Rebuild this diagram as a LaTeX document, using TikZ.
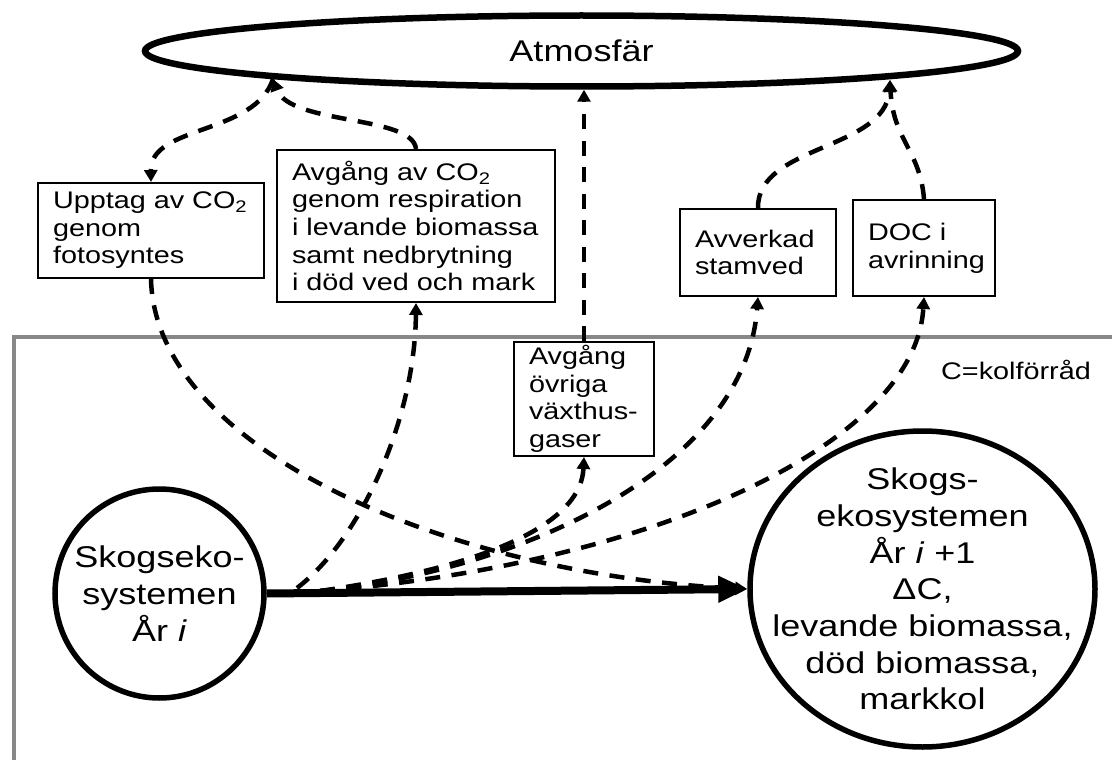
\documentclass[tikz,border=0pt]{standalone}
\usepackage{fontspec}
\setmainfont{Liberation Sans}[FakeStretch=1.2]
\usetikzlibrary{arrows.meta,shapes.geometric}
\definecolor{framegray}{RGB}{136,136,136}
\hyphenpenalty=10000
\exhyphenpenalty=10000
\begin{document}
\begin{tikzpicture}[x=1pt,y=-1pt,
  boxtext/.style={font=\fontsize{24}{27.6}\selectfont},
  fbox/.style={draw, line width=2pt, anchor=north west, align=left, inner xsep=15pt, inner ysep=0pt, boxtext},
  bigtext/.style={font=\fontsize{30}{36.7}\selectfont},
  flow/.style={line width=4.5pt, dash pattern=on 15pt off 11.5pt, -{Triangle[length=12pt,width=13pt]}},
  mainflow/.style={line width=8pt, -{Triangle[length=29pt,width=25pt]}},
  framestyle/.style={draw=framegray, line width=4.5pt},
]
\useasboundingbox (0,0) rectangle (1112,760);
\draw[framestyle] (14,762) -- (14,337) -- (1114,337);

\node[ellipse, draw, line width=6.5pt, minimum width=873pt, minimum height=71pt, inner sep=0pt, bigtext] (atm) at (581.5,51) {Atmosfär};

\node[fbox, text width=196pt, minimum height=95pt] (box1) at (37,182)
  {Upptag~av~CO\textsubscript{2}\\genom\\fotosyntes};
\node[fbox, text width=248pt, minimum height=152pt] (box2) at (276,149)
  {Avgång~av~CO\textsubscript{2}\\genom~respiration\\i~levande~biomassa\\samt~nedbrytning\\i~död~ved~och~mark};
\node[fbox, text width=110pt, minimum height=114pt] (box3) at (513,341)
  {Avgång\\övriga\\växthus-\\gaser};
\node[fbox, text width=126pt, minimum height=87pt] (avv) at (679,208)
  {Avverkad\\stamved};
\node[fbox, text width=112pt, minimum height=96pt] (doc) at (852,199)
  {DOC~i\\avrinning};

\node[boxtext] (legend) at (1016,370) {C=kolförråd};

\node[circle, draw, line width=5.5pt, minimum size=209pt, inner sep=0pt, align=center, bigtext] (left) at (159.5,593.5)
  {Skogseko-\\systemen\\År \textit{i}};
\node[ellipse, draw, line width=5.5pt, minimum width=345pt, minimum height=316pt, inner xsep=-80pt, inner ysep=-70pt, align=center, bigtext] (right) at (922.5,589)
  {Skogs-\\ekosystemen\\År \textit{i} +1\\ΔC,\\levande biomassa,\\död biomassa,\\markkol};

\coordinate (p1) at (273,79);
\coordinate (p2) at (890,80);
\coordinate (s1) at (297,588);
\coordinate (s2) at (320,591);

\draw[flow] (p1) .. controls (255,135) and (150,125) .. (box1.north);
\draw[flow] (box2.north) .. controls (413,115) and (290,125) .. (p1);
\draw[flow] (box3.north) -- (box3.north |- atm.south);
\draw[flow] (avv.north) .. controls (757,145) and (885,150) .. (p2);
\draw[flow] (doc.north) .. controls (920,150) and (893,140) .. (p2);

\draw[flow] (box1.south) .. controls (155,450) and (450,575) .. (right.west);
\draw[flow] (s1) .. controls (360,540) and (415,420) .. (box2.south);
\draw[flow] (s2) .. controls (430,575) and (580,540) .. (box3.south);
\draw[flow] (s2) .. controls (520,570) and (745,470) .. (avv.south);
\draw[flow] (s2) .. controls (650,565) and (915,445) .. (doc.south);

\draw[mainflow] (left.east) -- (right.west);
\end{tikzpicture}
\end{document}
